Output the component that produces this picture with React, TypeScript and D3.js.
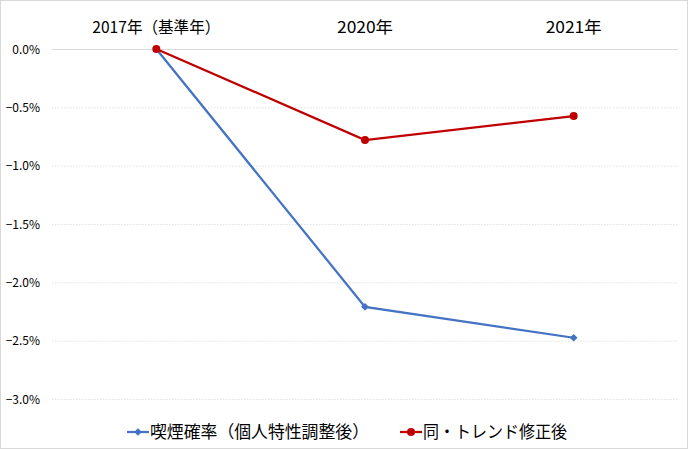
import { useEffect, useRef } from 'react';
import * as d3 from 'd3';

const categories = ['2017年（基準年）', '2020年', '2021年'];
const smokingAdjusted = [0, -2.21, -2.475];
const trendCorrected = [0, -0.78, -0.575];
const yTicks = [0, -0.5, -1.0, -1.5, -2.0, -2.5, -3.0];
const seriesNames = ['喫煙確率（個人特性調整後）', '同・トレンド修正後'];

const W = 688;
const H = 449;
const FONT = '"Noto Sans CJK JP", "Noto Sans", sans-serif';

const App = () => {
  const ref = useRef<SVGSVGElement>(null);

  useEffect(() => {
    const svg = d3.select(ref.current);
    svg.selectAll('*').remove();

    // frame
    svg
      .append('rect')
      .attr('x', 0.5)
      .attr('y', 0.5)
      .attr('width', W - 1)
      .attr('height', H - 1)
      .attr('fill', '#fff')
      .attr('stroke', '#d9d9d9');

    const left = 52;
    const right = 678;
    const x = d3.scaleBand().domain(categories).range([left, right]);
    const y = d3.scaleLinear().domain([0, -3]).range([49, 399]);
    const cx = (c: string) => x(c)! + x.bandwidth() / 2;

    // grid
    svg
      .append('g')
      .selectAll('line')
      .data(yTicks)
      .enter()
      .append('line')
      .attr('x1', left)
      .attr('x2', right)
      .attr('y1', (d) => y(d) + 0.5)
      .attr('y2', (d) => y(d) + 0.5)
      .attr('stroke', (d) => (d === 0 ? '#d9d9d9' : '#e3e3e3'))
      .attr('stroke-dasharray', (d) => (d === 0 ? null : '1.5,1.5'));

    // y labels
    svg
      .append('g')
      .selectAll('text')
      .data(yTicks)
      .enter()
      .append('text')
      .attr('x', 40)
      .attr('y', (d) => y(d) + 4.5)
      .attr('text-anchor', 'end')
      .attr('font-family', FONT)
      .attr('font-size', 12)
      .attr('fill', '#000')
      .text((d) => (d === 0 ? '0.0%' : '−' + Math.abs(d).toFixed(1) + '%'));

    // category labels at top
    const catWidths = [128, 56, 56];
    svg
      .append('g')
      .selectAll('text')
      .data(categories)
      .enter()
      .append('text')
      .attr('x', (d) => cx(d))
      .attr('y', 33)
      .attr('text-anchor', 'middle')
      .attr('font-family', FONT)
      .attr('font-size', 16)
      .attr('textLength', (_, i) => catWidths[i])
      .attr('lengthAdjust', 'spacingAndGlyphs')
      .attr('fill', '#000')
      .text((d) => d);

    const line = d3
      .line<number>()
      .x((_, i) => cx(categories[i]))
      .y((d) => y(d));

    // blue series
    svg
      .append('path')
      .datum(smokingAdjusted)
      .attr('d', line)
      .attr('fill', 'none')
      .attr('stroke', '#4472c4')
      .attr('stroke-width', 2.25);
    // rhombus marker: square rotated 45deg
    const diamond = d3.symbol().type(d3.symbolSquare).size(30);
    svg
      .append('g')
      .selectAll('path')
      .data(smokingAdjusted)
      .enter()
      .append('path')
      .attr('d', diamond)
      .attr('transform', (d, i) => `translate(${cx(categories[i])},${y(d)}) rotate(45)`)
      .attr('fill', '#4472c4');

    // red series
    svg
      .append('path')
      .datum(trendCorrected)
      .attr('d', line)
      .attr('fill', 'none')
      .attr('stroke', '#c00000')
      .attr('stroke-width', 2.25);
    svg
      .append('g')
      .selectAll('circle')
      .data(trendCorrected)
      .enter()
      .append('circle')
      .attr('cx', (_, i) => cx(categories[i]))
      .attr('cy', (d) => y(d))
      .attr('r', 4)
      .attr('fill', '#c00000');

    // legend
    const legend = [
      { name: seriesNames[0], color: '#4472c4', x: 127, marker: 'diamond', w: 219 },
      { name: seriesNames[1], color: '#c00000', x: 400, marker: 'circle', w: 144 },
    ];
    const ly = 432;
    legend.forEach((l) => {
      const g = svg.append('g');
      g.append('line')
        .attr('x1', l.x)
        .attr('x2', l.x + 22)
        .attr('y1', ly)
        .attr('y2', ly)
        .attr('stroke', l.color)
        .attr('stroke-width', 2.25);
      if (l.marker === 'diamond') {
        g.append('path')
          .attr('d', diamond)
          .attr('transform', `translate(${l.x + 11},${ly}) rotate(45)`)
          .attr('fill', l.color);
      } else {
        g.append('circle')
          .attr('cx', l.x + 11)
          .attr('cy', ly)
          .attr('r', 4)
          .attr('fill', l.color);
      }
      g.append('text')
        .attr('x', l.x + 23)
        .attr('y', ly + 6)
        .attr('font-family', FONT)
        .attr('font-size', 17)
        .attr('textLength', l.w)
        .attr('lengthAdjust', 'spacingAndGlyphs')
        .attr('fill', '#000')
        .text(l.name);
    });
  }, []);

  return (
    <svg
      ref={ref}
      width={W}
      height={H}
      style={{ position: 'fixed', left: 0, top: 0, display: 'block' }}
    />
  );
};

export default App;
